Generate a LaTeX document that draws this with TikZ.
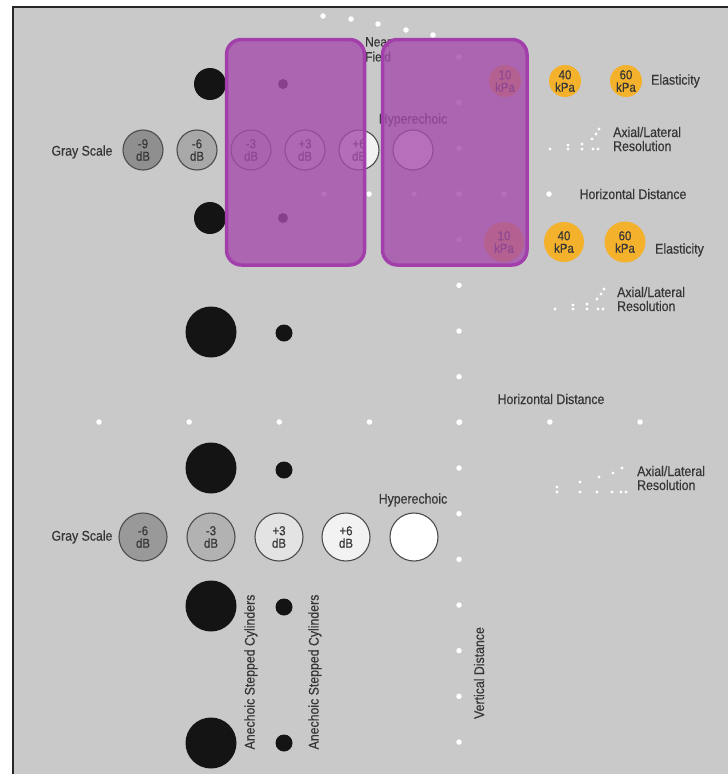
\documentclass[tikz,border=0pt]{standalone}
\usepackage{fontspec}
\setmainfont{Liberation Sans}[FakeStretch=0.88,FakeBold=0.4]
\definecolor{phantom}{HTML}{C9C9C9}
\definecolor{labelgray}{HTML}{363636}
\definecolor{rimgray}{HTML}{4C4C4C}
\definecolor{kpaorange}{HTML}{F3B12C}
\definecolor{probefill}{HTML}{A54CAA}
\definecolor{probeedge}{HTML}{A23FAB}

\begin{document}
\begin{tikzpicture}[x=1pt,y=-1pt,
  lbl/.style={text=labelgray,inner sep=0pt,font=\fontsize{14}{14}\selectfont},
  dbdisc/.style={circle,draw=rimgray,line width=1.1pt,inner sep=0pt,align=center,text=labelgray,font=\fontsize{13}{12.5}\selectfont},
  kpadisc/.style={circle,fill=kpaorange,inner sep=0pt,align=center,text=labelgray,font=\fontsize{13}{12.5}\selectfont},
  pin/.style={circle,fill=white,inner sep=0pt,minimum size=5.5pt},
  wire/.style={circle,fill=white,inner sep=0pt,minimum size=3.4pt},
  rod/.style={circle,fill=black!92,inner sep=0pt},
  probe/.style={draw=probeedge,line width=3.5pt,rounded corners=15pt,fill=probefill,fill opacity=0.8}]
% \draw[help lines] (0,0) grid (728,774);
\useasboundingbox (0,0) rectangle (728,774);
\fill[phantom] (13,7) rectangle (728,774);
\draw[line width=2pt,black!85] (13,774) -- (13,7) -- (728,7);
%
% wire targets
\foreach \i/\px/\py in {1/323/16,2/351/19,3/378/24,4/406/30,5/433/35}
  \node (nf\i) [pin] at (\px,\py) {};
\foreach \i in {0,...,15}
  \node (vd\i) [pin] at (459,57+45.67*\i) {};
\foreach \i in {0,...,6}
  \node (hl\i) [pin] at (99+90.17*\i,422) {};
\foreach \i in {0,...,5}
  \node (hu\i) [pin] at (324+45*\i,194) {};
\begin{scope}[shift={(550,149)}]
\foreach \i/\px/\py in {1/0/0,2/18/-4,3/18/0,4/32/-5,5/32/0,6/42/-10,7/46/-15,8/49/-20,9/43/0,10/48/0}
  \node (ra\i) [wire] at (\px,\py) {};
\end{scope}
\begin{scope}[shift={(555,309)}]
\foreach \i/\px/\py in {1/0/0,2/18/-4,3/18/0,4/32/-5,5/32/0,6/42/-10,7/46/-15,8/49/-20,9/43/0,10/48/0}
  \node (rb\i) [wire] at (\px,\py) {};
\end{scope}
\begin{scope}[shift={(557,492)}]
\foreach \i/\px/\py in {1/0/-5,2/0/0,3/23/-10,4/23/0,5/42/-15,6/40/0,7/56/-19,8/55/0,9/65/-24,10/64/0,11/69/0}
  \node (rc\i) [wire] at (\px,\py) {};
\end{scope}
%
% anechoic cylinders
\node (ru1) [rod,minimum size=32pt] at (210,84) {};
\node (ru2) [rod,minimum size=32pt] at (210,218) {};
\node (su1) [rod,minimum size=10pt] at (283,84) {};
\node (su2) [rod,minimum size=10pt] at (283,218) {};
\node (rl1) [rod,minimum size=51pt] at (211,332) {};
\node (rl2) [rod,minimum size=51pt] at (211,468) {};
\node (rl3) [rod,minimum size=51pt] at (211,606) {};
\node (rl4) [rod,minimum size=51pt] at (211,743) {};
\node (sl1) [rod,minimum size=17pt] at (284,333) {};
\node (sl2) [rod,minimum size=17pt] at (284,470) {};
\node (sl3) [rod,minimum size=17pt] at (284,607) {};
\node (sl4) [rod,minimum size=17pt] at (284,743) {};
\node (an1) [lbl,rotate=90] at (251,672) {Anechoic Stepped Cylinders};
\node (an2) [lbl,rotate=90] at (315,672) {Anechoic Stepped Cylinders};
%
% gray scale, upper
\node (gsu) [lbl] at (82,152) {Gray Scale};
\node (gu1) [dbdisc,minimum size=40pt,fill=black!44] at (143,150) {-9\\dB};
\node (gu2) [dbdisc,minimum size=40pt,fill=black!34] at (197,150) {-6\\dB};
\node (gu3) [dbdisc,minimum size=40pt,fill=black!25] at (251,150) {-3\\dB};
\node (gu4) [dbdisc,minimum size=40pt,fill=black!15] at (305,150) {+3\\dB};
\node (gu5) [dbdisc,minimum size=40pt,fill=black!5] at (359,150) {+6\\dB};
\node (gu6) [dbdisc,minimum size=40pt,fill=white] at (413,150) {};
\node (hyu) [lbl] at (413,120) {Hyperechoic};
%
% gray scale, lower
\node (gsl) [lbl] at (82,537) {Gray Scale};
\node (gl1) [dbdisc,minimum size=48pt,fill=black!40] at (143,537) {-6\\dB};
\node (gl2) [dbdisc,minimum size=48pt,fill=black!30] at (211,537) {-3\\dB};
\node (gl3) [dbdisc,minimum size=48pt,fill=black!11] at (279,537) {+3\\dB};
\node (gl4) [dbdisc,minimum size=48pt,fill=black!5] at (346,537) {+6\\dB};
\node (gl5) [dbdisc,minimum size=48pt,fill=white] at (414,537) {};
\node (hyl) [lbl] at (413,500) {Hyperechoic};
%
% elasticity
\node (ku1) [kpadisc,minimum size=32pt] at (505,81) {10\\kPa};
\node (ku2) [kpadisc,minimum size=32pt] at (565,81) {40\\kPa};
\node (ku3) [kpadisc,minimum size=32pt] at (626,81) {60\\kPa};
\node (elu) [lbl,anchor=west] at (651,81) {Elasticity};
\node (kl1) [kpadisc,minimum size=40pt] at (504,242) {10\\kPa};
\node (kl2) [kpadisc,minimum size=40pt] at (564,242) {40\\kPa};
\node (kl3) [kpadisc,minimum size=41pt] at (625,242) {60\\kPa};
\node (ell) [lbl,anchor=west] at (655,250) {Elasticity};
%
% other labels
\node (nfl) [lbl,anchor=north west,align=left,font=\fontsize{13.5}{15}\selectfont] at (365,37) {Near\\Field};
\node (axa) [lbl,anchor=west,align=left] at (613,139) {Axial/Lateral\\Resolution};
\node (axb) [lbl,anchor=west,align=left] at (617,299) {Axial/Lateral\\Resolution};
\node (axc) [lbl,anchor=west,align=left] at (637,478) {Axial/Lateral\\Resolution};
\node (hdu) [lbl] at (633,194) {Horizontal Distance};
\node (hdl) [lbl] at (551,399) {Horizontal Distance};
\node (vdl) [lbl,rotate=90] at (479,673) {Vertical Distance};
%
% transducer footprints
\path[probe] (226.5,39.5) rectangle (364.5,265);
\path[probe] (382.5,39.5) rectangle (527,265);
\end{tikzpicture}
\end{document}
